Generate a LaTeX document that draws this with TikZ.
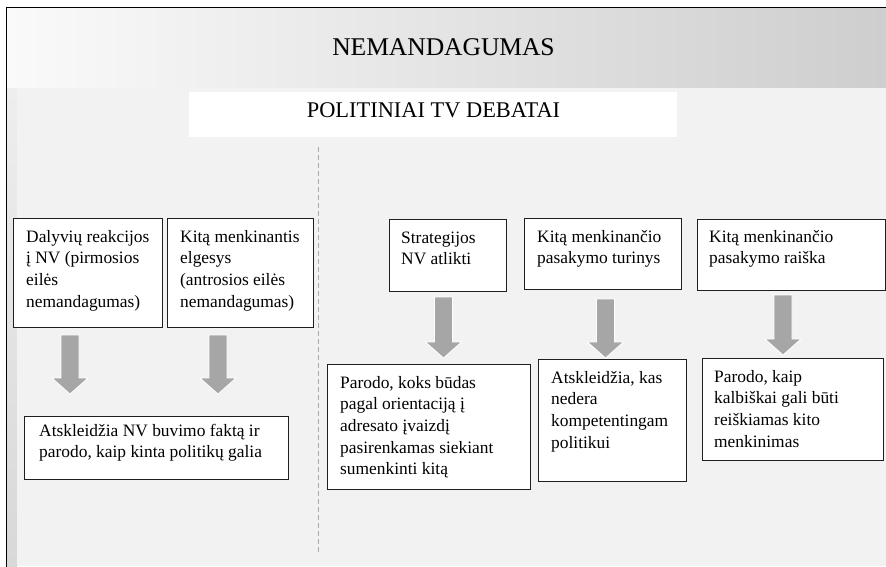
\documentclass[tikz,border=0pt]{standalone}
\usepackage{fontspec}
\setmainfont{Liberation Serif}
\usetikzlibrary{calc}
\definecolor{bodybg}{HTML}{F2F2F2}
\definecolor{hdrL}{HTML}{FAFAFA}
\definecolor{hdrR}{HTML}{CECECE}
\definecolor{bandT}{HTML}{EEEEEE}
\definecolor{bandB}{HTML}{D8D8D8}
\definecolor{arrowgray}{HTML}{A6A6A6}
\definecolor{dashgray}{HTML}{ABABAB}
\definecolor{boxline}{HTML}{1F1F1F}
\newcommand\blockarrow[2]{%
  \filldraw[fill=arrowgray, draw=white, line width=0.8pt, line join=miter]
    ($(#1)+(-9,0)$) -- ($(#2)+(-9,-16)$) -- ($(#2)+(-18,-16)$) -- (#2)
    -- ($(#2)+(18,-16)$) -- ($(#2)+(9,-16)$) -- ($(#1)+(9,0)$) -- cycle;}
\begin{document}
\begin{tikzpicture}[x=1pt,y=-1pt,
  box/.style={draw=boxline, line width=1.2pt, fill=white, inner sep=0pt, anchor=north west},
  txt/.style={inner sep=0pt, anchor=base west, font=\fontsize{17.4pt}{21.7pt}\selectfont},
  hdr/.style={inner sep=0pt, anchor=base}]
\useasboundingbox (0,0) rectangle (886,566);
\clip (0,0) rectangle (886,566);
\fill[white] (0,0) rectangle (886,566);
% background panels
\shade[left color=hdrL, right color=hdrR] (7,8) rectangle (886,88);
\shade[top color=bandT, bottom color=bandB] (7,88) rectangle (17,566);
\fill[bodybg] (17,88) rectangle (886,566);
\draw[black, line width=1.5pt] (6.5,600) -- (6.5,7.5) -- (900,7.5);
% titles
\node[hdr, text=black!18, font=\fontsize{25.5pt}{30pt}\selectfont] (titleshadow) at (444.3,55.8) {NEMANDAGUMAS};
\node[hdr, font=\fontsize{25.5pt}{30pt}\selectfont] (title) at (443.5,55) {NEMANDAGUMAS};
\node[fill=white, inner sep=0pt, anchor=north west, minimum width=488pt, minimum height=45pt] (pol) at (189,92) {};
\node[hdr, font=\fontsize{22.4pt}{26pt}\selectfont] (poltext) at (433.5,117) {POLITINIAI TV DEBATAI};
% dashed divider
\coordinate (dtop) at (318.5,147);
\coordinate (dbot) at (318.5,552);
\draw[dashgray, line width=0.9pt, dash pattern=on 5pt off 3pt] (dtop) -- (dbot);
% left boxes
\node[box, minimum width=149pt, minimum height=109pt] (b1) at (13,218) {};
\node[box, minimum width=146pt, minimum height=109pt] (b2) at (167,218) {};
\node[box, minimum width=264pt, minimum height=63pt] (b3) at (24,416) {};
\node[txt] (t1) at (26,242) {\parbox[t]{140pt}{\raggedright Dalyvių reakcijos\\ į NV (pirmosios\\ eilės\\ nemandagumas)}};
\node[txt] (t2) at (180,242) {\parbox[t]{140pt}{\raggedright Kitą menkinantis\\ elgesys\\ (antrosios eilės\\ nemandagumas)}};
\node[txt] (t3) at (39,436) {\parbox[t]{250pt}{\raggedright Atskleidžia NV buvimo faktą ir\\ parodo, kaip kinta politikų galia}};
% right boxes
\node[box, minimum width=117pt, minimum height=72pt] (s1) at (389,219) {};
\node[box, minimum width=157pt, minimum height=71pt] (s2) at (524,218) {};
\node[box, minimum width=188pt, minimum height=71pt] (s3) at (697,219) {};
\node[box, minimum width=203pt, minimum height=125pt] (p1) at (327,364) {};
\node[box, minimum width=148pt, minimum height=122pt] (p2) at (538,359) {};
\node[box, minimum width=181pt, minimum height=102pt] (p3) at (702,358) {};
\node[txt] (ts1) at (401,243) {\parbox[t]{110pt}{\raggedright Strategijos\\ NV atlikti}};
\node[txt] (ts2) at (537,242) {\parbox[t]{150pt}{\raggedright Kitą menkinančio\\ pasakymo turinys}};
\node[txt] (ts3) at (709,242) {\parbox[t]{170pt}{\raggedright Kitą menkinančio\\ pasakymo raiška}};
\node[txt] (tp1) at (340,388) {\parbox[t]{190pt}{\raggedright Parodo, koks būdas\\ pagal orientaciją į\\ adresato įvaizdį\\ pasirenkamas siekiant\\ sumenkinti kitą}};
\node[txt] (tp2) at (551,383) {\parbox[t]{140pt}{\raggedright Atskleidžia, kas\\ nedera\\ kompetentingam\\ politikui}};
\node[txt] (tp3) at (714,382) {\parbox[t]{165pt}{\raggedright Parodo, kaip\\ kalbiškai gali būti\\ reiškiamas kito\\ menkinimas}};
% block arrows
\coordinate (a1s) at (70,335);    \coordinate (a1e) at (70,394);
\coordinate (a2s) at (218,335);   \coordinate (a2e) at (218,394);
\coordinate (a3s) at (443.5,297); \coordinate (a3e) at (443.5,358);
\coordinate (a4s) at (605.5,299); \coordinate (a4e) at (605.5,358);
\coordinate (a5s) at (783,295);   \coordinate (a5e) at (783,355);
\blockarrow{a1s}{a1e}
\blockarrow{a2s}{a2e}
\blockarrow{a3s}{a3e}
\blockarrow{a4s}{a4e}
\blockarrow{a5s}{a5e}
\end{tikzpicture}
\end{document}
